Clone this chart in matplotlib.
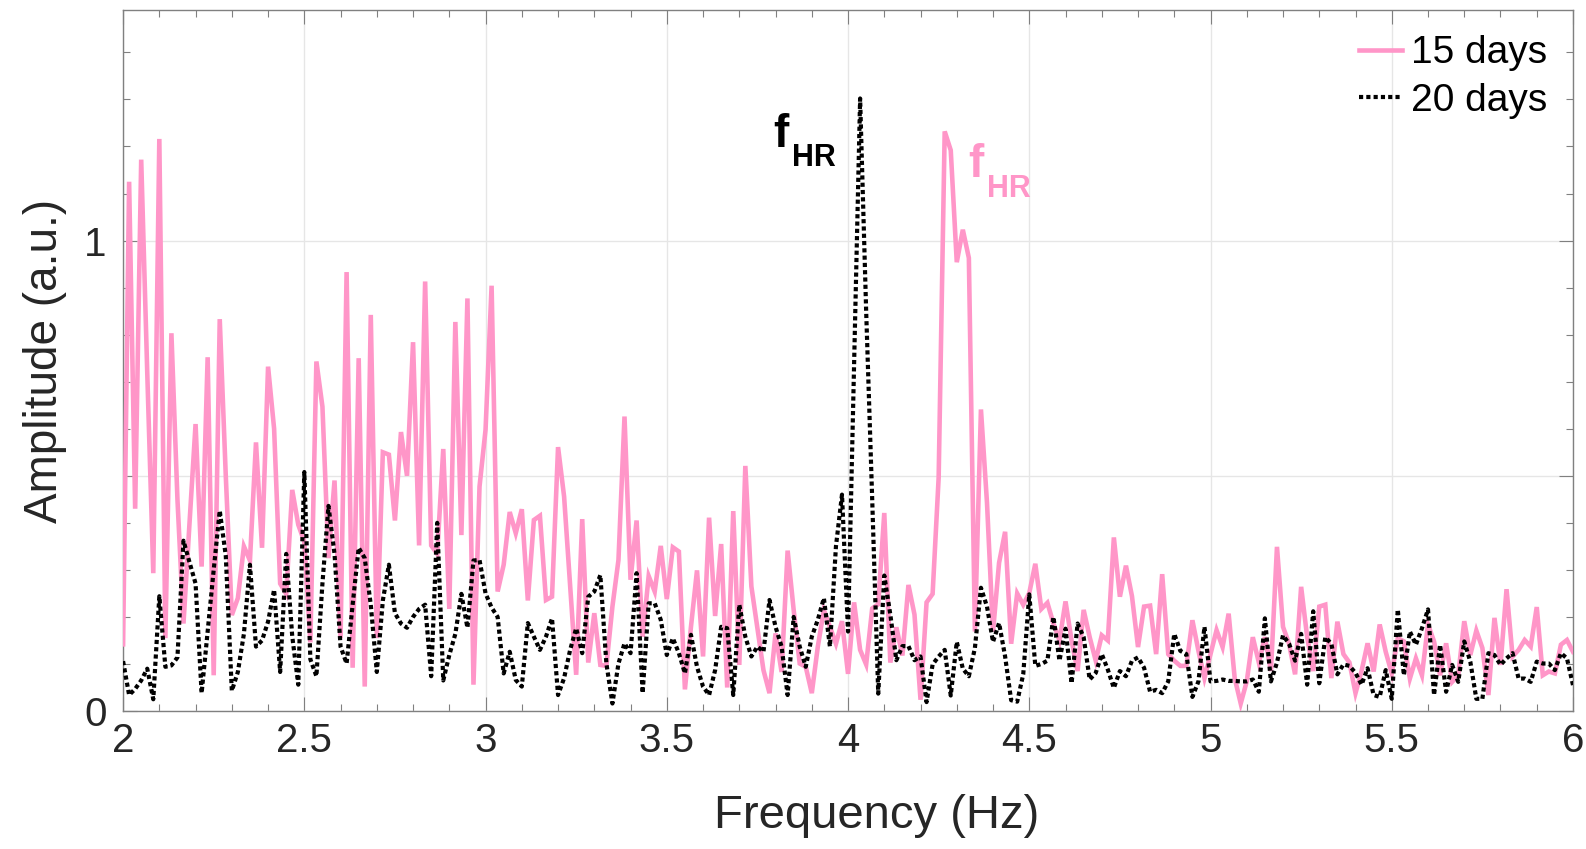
import numpy as np
import matplotlib
matplotlib.use("Agg")
import matplotlib.pyplot as plt
from matplotlib.ticker import MultipleLocator

plt.rcParams["font.family"] = ["Liberation Sans", "DejaVu Sans"]

# Spectrum sampling step (Hz)
df = 1 / 60

# 15-day recording: amplitudes starting one bin below 2 Hz
amp_15 = [
    0.30,
    0.137, 1.125, 0.43, 1.172, 0.72, 0.293, 1.216, 0.155, 0.803, 0.45,
    0.186, 0.40, 0.61, 0.307, 0.752, 0.076, 0.833, 0.50, 0.204, 0.24,
    0.35, 0.32, 0.571, 0.347, 0.732, 0.60, 0.271, 0.249, 0.47, 0.396,
    0.36, 0.146, 0.743, 0.647, 0.325, 0.49, 0.155, 0.933, 0.092, 0.75,
    0.052, 0.842, 0.155, 0.55, 0.545, 0.405, 0.593, 0.50, 0.784, 0.352,
    0.913, 0.352, 0.334, 0.557, 0.217, 0.827, 0.374, 0.877, 0.056, 0.477,
    0.598, 0.904, 0.254, 0.311, 0.423, 0.378, 0.429, 0.235, 0.406, 0.415,
    0.236, 0.243, 0.561, 0.456, 0.265, 0.077, 0.408, 0.103, 0.208, 0.098,
    0.096, 0.222, 0.321, 0.626, 0.279, 0.405, 0.158, 0.287, 0.254, 0.351,
    0.238, 0.348, 0.339, 0.046, 0.179, 0.299, 0.116, 0.411, 0.202, 0.355,
    0.05, 0.425, 0.098, 0.521, 0.265, 0.176, 0.087, 0.038, 0.165, 0.083,
    0.341, 0.215, 0.101, 0.094, 0.038, 0.137, 0.215, 0.179, 0.143, 0.191,
    0.079, 0.231, 0.130, 0.099, 0.218, 0.227, 0.421, 0.103, 0.178, 0.118,
    0.268, 0.205, 0.024, 0.231, 0.249, 0.496, 1.232, 1.192, 0.954, 1.023,
    0.963, 0.169, 0.641, 0.443, 0.169, 0.315, 0.381, 0.143, 0.25, 0.226,
    0.251, 0.313, 0.217, 0.230, 0.186, 0.15, 0.233, 0.15, 0.085, 0.215,
    0.157, 0.107, 0.161, 0.15, 0.369, 0.243, 0.309, 0.244, 0.136, 0.222,
    0.224, 0.121, 0.291, 0.121, 0.107, 0.096, 0.096, 0.193, 0.128, 0.07,
    0.121, 0.172, 0.136, 0.207, 0.07, 0.016, 0.063, 0.157, 0.103, 0.157,
    0.085, 0.349, 0.179, 0.143, 0.078, 0.264, 0.157, 0.085, 0.222, 0.226,
    0.07, 0.19, 0.121, 0.103, 0.038, 0.085, 0.144, 0.084, 0.184, 0.126,
    0.08, 0.155, 0.148, 0.069, 0.112, 0.076, 0.184, 0.148, 0.076, 0.144,
    0.062, 0.076, 0.191, 0.119, 0.171, 0.134, 0.034, 0.198, 0.098, 0.259,
    0.116, 0.13, 0.151, 0.137, 0.221, 0.076, 0.084, 0.08, 0.141, 0.151,
    0.126,
]

# 20-day recording: amplitudes from 2 Hz to 6 Hz
amp_20 = [
    0.106, 0.034, 0.047, 0.065, 0.09, 0.025, 0.244, 0.094, 0.097, 0.114,
    0.362, 0.316, 0.271, 0.038, 0.17, 0.30, 0.426, 0.33, 0.043, 0.083,
    0.164, 0.311, 0.137, 0.15, 0.19, 0.258, 0.083, 0.334, 0.159, 0.056,
    0.508, 0.11, 0.074, 0.271, 0.436, 0.334, 0.137, 0.101, 0.226, 0.347,
    0.325, 0.226, 0.083, 0.235, 0.311, 0.208, 0.186, 0.177, 0.2, 0.217,
    0.226, 0.074, 0.40, 0.065, 0.119, 0.164, 0.249, 0.177, 0.32, 0.321,
    0.25, 0.22, 0.20, 0.08, 0.126, 0.066, 0.052, 0.187, 0.158, 0.13,
    0.158, 0.197, 0.034, 0.07, 0.13, 0.176, 0.123, 0.243, 0.254, 0.289,
    0.101, 0.016, 0.101, 0.144, 0.123, 0.293, 0.038, 0.229, 0.229, 0.194,
    0.119, 0.155, 0.123, 0.08, 0.162, 0.094, 0.052, 0.034, 0.087, 0.179,
    0.176, 0.034, 0.226, 0.158, 0.116, 0.137, 0.126, 0.236, 0.179, 0.137,
    0.034, 0.2, 0.137, 0.094, 0.158, 0.194, 0.24, 0.137, 0.35, 0.46,
    0.169, 0.74, 1.302, 0.85, 0.45, 0.037, 0.288, 0.205, 0.108, 0.138,
    0.138, 0.108, 0.116, 0.019, 0.099, 0.116, 0.13, 0.033, 0.147, 0.09,
    0.074, 0.134, 0.262, 0.222, 0.147, 0.187, 0.116, 0.023, 0.02, 0.078,
    0.248, 0.096, 0.10, 0.107, 0.2, 0.107, 0.175, 0.059, 0.186, 0.157,
    0.067, 0.081, 0.121, 0.088, 0.049, 0.085, 0.074, 0.107, 0.114, 0.092,
    0.041, 0.045, 0.038, 0.063, 0.164, 0.128, 0.121, 0.03, 0.063, 0.179,
    0.063, 0.064, 0.067, 0.064, 0.064, 0.063, 0.063, 0.067, 0.041, 0.197,
    0.063, 0.103, 0.161, 0.143, 0.107, 0.164, 0.056, 0.212, 0.059, 0.157,
    0.143, 0.078, 0.099, 0.096, 0.081, 0.056, 0.091, 0.034, 0.03, 0.087,
    0.026, 0.216, 0.076, 0.169, 0.141, 0.176, 0.216, 0.034, 0.141, 0.041,
    0.098, 0.062, 0.148, 0.105, 0.026, 0.026, 0.123, 0.119, 0.098, 0.112,
    0.123, 0.069, 0.069, 0.062, 0.105, 0.101, 0.101, 0.087, 0.123, 0.112,
    0.055,
]

freq_15 = 2 - df + df * np.arange(len(amp_15))
freq_20 = 2 + df * np.arange(len(amp_20))

series_labels = ["15 days", "20 days"]
x_ticks = [2, 2.5, 3, 3.5, 4, 4.5, 5, 5.5, 6]
x_tick_labels = ["2", "2.5", "3", "3.5", "4", "4.5", "5", "5.5", "6"]
y_ticks = [0, 0.5, 1]
y_tick_labels = ["0", "", "1"]

pink = "#ff96c8"
axis_gray = "#808080"
text_gray = "#262626"

fig = plt.figure(figsize=(15.86, 8.49), dpi=100)
ax = fig.add_axes([0.0776, 0.1625, 0.9142, 0.8257])

ax.plot(freq_15, amp_15, color=pink, lw=3.3, label=series_labels[0],
        solid_joinstyle="miter", zorder=3)
ax.plot(freq_20, amp_20, color="black", lw=3.0, linestyle=(0, (1.0, 0.75)),
        label=series_labels[1], zorder=4)

ax.set_xlim(2, 6)
ax.set_ylim(0, 1.49)
ax.set_xticks(x_ticks)
ax.set_xticklabels(x_tick_labels)
ax.set_yticks(y_ticks)
ax.set_yticklabels(y_tick_labels)
ax.xaxis.set_minor_locator(MultipleLocator(0.1))
ax.yaxis.set_minor_locator(MultipleLocator(0.1))

ax.grid(True, which="major", color="#e6e6e6", lw=1.0, zorder=0)
ax.set_axisbelow(True)

for sp in ax.spines.values():
    sp.set_color(axis_gray)
    sp.set_linewidth(1.0)

ax.tick_params(which="both", direction="in", top=True, right=True,
               color=axis_gray, width=0.8)
ax.tick_params(which="major", length=10, labelsize=29, labelcolor=text_gray,
               pad=8)
ax.tick_params(axis="y", which="major", pad=12)
ax.tick_params(which="minor", length=5)

ax.set_xlabel("Frequency (Hz)", fontsize=34, color=text_gray)
ax.xaxis.set_label_coords(0.52, -0.118, transform=ax.transAxes)
ax.xaxis.label.set_va("top")
ax.set_ylabel("Amplitude (a.u.)", fontsize=33, color=text_gray, labelpad=12)


def peak_label(x, y, x_sub, y_sub, color):
    """Bold 'f' with a lowered bold 'HR' subscript."""
    ax.text(x, y, "f", fontsize=33, fontweight="bold", color=color,
            va="baseline", ha="left", zorder=5)
    ax.text(x_sub, y_sub, "HR", fontsize=22, fontweight="bold", color=color,
            va="baseline", ha="left", zorder=5)


peak_label(3.795, 1.198, 3.846, 1.158, "black")
peak_label(4.331, 1.135, 4.382, 1.092, pink)

leg = ax.legend(loc="upper right", frameon=False, fontsize=28,
                handlelength=1.1, handletextpad=0.25, borderaxespad=0.25,
                labelspacing=0.3)

fig.savefig("out.png", dpi=100)
